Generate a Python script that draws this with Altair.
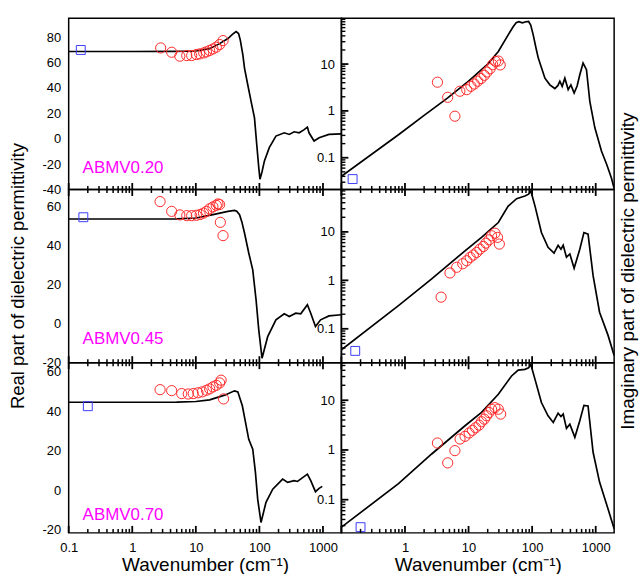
import altair as alt
import pandas as pd

# ---------------- data ----------------
# Real part, ABMV0.20
tl_line_x = [0.1, 1, 5, 10, 16.5, 23.7, 32, 38, 43, 47, 50, 55, 58.3, 65.6, 74, 83.7, 90.8, 97.7, 102, 110, 120, 143, 182, 246, 295, 352, 422, 500, 569, 603, 724, 869, 1242, 1950]
tl_line_y = [68.8, 68.8, 68.9, 69.2, 71, 75, 79, 82.5, 84.5, 83, 78, 66, 55.7, 42.6, 29.5, 16.5, -4.5, -22.7, -31.9, -26, -17.5, -7, 2.1, 4.7, 3.4, 5.5, 4.7, 7, 9.2, 4.7, -1.8, 0.8, 3.4, 3.9]
tl_circ_x = [2.8, 4.17, 5.6, 7.2, 8.6, 10.2, 11.5, 13.3, 14.7, 16.5, 18.6, 21, 23.7, 26.8]
tl_circ_y = [71.6, 68.2, 65.1, 65.6, 65.6, 66.4, 66.9, 67.7, 68.5, 69.6, 70.8, 72.2, 74.3, 77.4]
tl_sq_x = [0.155]
tl_sq_y = [70]

# Imaginary part, ABMV0.20
tr_line_x = [0.1, 0.79, 2, 4.7, 10, 20, 29.4, 42, 50, 56, 62, 70, 80, 88, 95, 104, 115, 125, 159, 190, 228, 255, 273, 297, 327, 369, 407, 458, 510, 562, 633, 716, 808, 968, 1231, 1500, 1767, 1950]
tr_line_y = [0.04, 0.31, 0.8, 1.9, 4.3, 10, 18.6, 42, 62, 76, 80, 76, 80, 81, 68, 42, 22, 13.4, 5, 3.6, 3.0, 3.5, 4.3, 3.35, 5.0, 2.85, 3.6, 2.4, 3.4, 5.9, 10.5, 7.6, 1.6, 0.44, 0.139, 0.07, 0.037, 0.022]
tr_circ_x = [3.24, 4.7, 6.1, 7.3, 9.35, 10.9, 12.3, 13.9, 15.7, 17.7, 19.5, 21.8, 23.9, 26.6, 29.4, 31.5]
tr_circ_y = [4.1, 1.95, 0.77, 2.63, 2.84, 3.35, 3.75, 4.3, 4.9, 5.75, 6.75, 7.95, 9.7, 11.4, 11.6, 9.6]
tr_sq_x = [0.15]
tr_sq_y = [0.035]

# Real part, ABMV0.45
ml_line_x = [0.1, 1, 5, 10, 18.6, 32, 40.6, 44, 48.7, 53, 58.3, 68, 78.6, 88.6, 97.7, 110, 120, 135, 182, 246, 295, 373, 447, 569, 642, 762, 917, 1242, 1950]
ml_line_y = [53.5, 53.5, 53.6, 54, 55.7, 57.4, 57.9, 57.5, 55.7, 52, 46.3, 36.1, 27.5, 12.2, -3.2, -17.7, -13, -6.7, 1.9, 5.0, 3.6, 5.3, 5.0, 9.6, 5.3, -1.5, 1.9, 3.9, 4.5]
ml_circ_x = [2.74, 4.17, 5.6, 7.2, 8.6, 10.2, 11.7, 13.2, 14.7, 16.5, 18.6, 21, 22.3, 23.7, 24.3, 26.8]
ml_circ_y = [62.4, 57.4, 55.6, 55.2, 55.2, 55.4, 55.8, 56.5, 57.4, 58.7, 59.7, 60.5, 61.2, 60.9, 51.8, 45]
ml_sq_x = [0.17]
ml_sq_y = [54.4]

# Imaginary part, ABMV0.45
mr_line_x = [0.1, 0.79, 2.63, 8.8, 16, 29.4, 42, 57, 77, 88, 95.5, 111, 140, 178, 221, 256, 284, 308, 347, 392, 458, 562, 653, 758, 910, 1150, 1560, 1950]
mr_line_y = [0.037, 0.30, 1.07, 4.07, 7.7, 15.6, 34, 48.5, 55, 60, 69.8, 34, 9.7, 4.8, 3.65, 5.3, 4.4, 5.3, 3.0, 3.5, 1.77, 4.4, 9.7, 9.0, 1.25, 0.22, 0.074, 0.028]
mr_circ_x = [3.7, 5.1, 6.5, 8.1, 9.35, 10.6, 11.9, 13.4, 15.1, 17.1, 18.8, 21, 23, 26, 28.6, 30.5]
mr_circ_y = [0.45, 1.42, 1.86, 2.2, 2.54, 2.98, 3.33, 3.77, 4.4, 5.0, 5.86, 6.85, 8.3, 9.4, 7.7, 5.6]
mr_sq_x = [0.165]
mr_sq_y = [0.035]

# Real part, ABMV0.70
bl_line_x = [0.1, 1, 5, 10, 16.5, 28.4, 40.6, 45.8, 53.9, 60.6, 68, 78.6, 86.6, 94, 106, 127, 162, 232, 278, 352, 397, 569, 642, 762, 869, 975]
bl_line_y = [44.6, 44.6, 44.7, 45.0, 45.8, 48.2, 50.4, 49.9, 42.8, 34.3, 25.8, 20.8, 9.0, -4.6, -16.4, -6.2, 0.5, 5.6, 3.9, 4.8, 4.4, 8.1, 4.8, -0.8, 0.9, 1.9]
bl_circ_x = [2.74, 4.17, 6.0, 7.6, 9.1, 10.8, 12.7, 14.7, 16.5, 18.6, 21, 23.7, 25, 27.3]
bl_circ_y = [51.0, 50.5, 49.0, 48.8, 49.0, 49.4, 49.9, 50.7, 51.4, 52.4, 53.2, 54.4, 55.8, 46.3]
bl_sq_x = [0.2]
bl_sq_y = [42.6]

# Imaginary part, ABMV0.70
br_line_x = [0.1, 0.79, 2.63, 8.8, 16, 29.4, 47.5, 60.4, 77, 88, 95.5, 111, 140, 178, 215, 256, 284, 308, 347, 392, 470, 562, 653, 758, 910, 1150, 1560, 1950]
br_line_y = [0.028, 0.21, 0.83, 3.07, 5.7, 13.2, 30.8, 40.5, 41.8, 45, 52.5, 26.3, 9.0, 4.86, 3.58, 5.5, 4.7, 5.27, 2.72, 3.3, 1.8, 3.86, 7.9, 7.7, 0.9, 0.226, 0.066, 0.026]
br_circ_x = [3.24, 4.7, 6.1, 7.35, 8.8, 10.2, 11.5, 12.9, 14.6, 16, 17.7, 19.2, 21, 23, 26, 29.4, 32]
br_circ_y = [1.38, 0.55, 0.97, 1.66, 1.88, 2.19, 2.48, 2.8, 3.16, 3.7, 4.17, 4.87, 5.67, 6.6, 7.1, 6.6, 5.27]
br_sq_x = [0.2]
br_sq_y = [0.028]

sample_labels = ["ABMV0.20", "ABMV0.45", "ABMV0.70"]
x_title = "Wavenumber (cm\u207b\u00b9)"
left_title = "Real part of dielectric permittivity"
right_title = "Imaginary part of dielectric permittivity"

x_domain = [0.1, 1950]
left_y_domains = [[-40, 95], [-20, 68.6], [-21.7, 64.7]]
right_y_domains = [[0.021, 95], [0.02, 75], [0.0215, 57]]
left_y_ticks = [[-40, -20, 0, 20, 40, 60, 80], [-20, 0, 20, 40, 60], [-20, 0, 20, 40, 60]]
x_labels_left = [0.1, 1, 10, 100, 1000]
x_labels_right = [1, 10, 100, 1000]
x_major = [0.1, 1, 10, 100, 1000]
x_minor = [k * 10 ** d for d in range(-1, 3) for k in range(2, 10)]
y_log_major = [0.1, 1, 10]
y_log_minor = [k * 10 ** d for d in range(-2, 2) for k in range(2, 10)]

# ---------------- layout ----------------
W = 274
HEIGHTS = [172, 174, 171]
LABEL_RISE = [17, 19, 13]
FONT = "Liberation Sans"

panels_data = [
    [(tl_line_x, tl_line_y, tl_circ_x, tl_circ_y, tl_sq_x, tl_sq_y),
     (tr_line_x, tr_line_y, tr_circ_x, tr_circ_y, tr_sq_x, tr_sq_y)],
    [(ml_line_x, ml_line_y, ml_circ_x, ml_circ_y, ml_sq_x, ml_sq_y),
     (mr_line_x, mr_line_y, mr_circ_x, mr_circ_y, mr_sq_x, mr_sq_y)],
    [(bl_line_x, bl_line_y, bl_circ_x, bl_circ_y, bl_sq_x, bl_sq_y),
     (br_line_x, br_line_y, br_circ_x, br_circ_y, br_sq_x, br_sq_y)],
]


def make_panel(row, col):
    lx, ly, cx, cy, sx, sy = panels_data[row][col]
    H = HEIGHTS[row]
    bottom = row == 2

    if bottom:
        xaxis = alt.Axis(values=x_labels_left if col == 0 else x_labels_right,
                         labelExpr="'' + datum.value", ticks=False, tickSize=0,
                         domain=False, labelPadding=9, labelFlush=False,
                         labelOverlap=False, title=x_title, titlePadding=1,
                         titleFontSize=19)
    else:
        xaxis = None
    X = alt.X("x:Q", scale=alt.Scale(type="log", domain=x_domain, nice=False), axis=xaxis)

    if col == 0:
        ydom = left_y_domains[row]
        yscale = alt.Scale(domain=ydom, nice=False, zero=False)
        yaxis = alt.Axis(values=left_y_ticks[row], labelExpr="'' + datum.value",
                         ticks=False, tickSize=0, domain=False, labelPadding=8,
                         labelFlush=False, labelOverlap=False, title=None)
    else:
        ydom = right_y_domains[row]
        yscale = alt.Scale(type="log", domain=ydom, nice=False)
        yaxis = alt.Axis(values=y_log_major, labelExpr="'' + datum.value",
                         ticks=False, tickSize=0, domain=False, labelPadding=7,
                         labelFlush=False, labelOverlap=False, title=None)
    Y = alt.Y("y:Q", scale=yscale, axis=yaxis)

    line = alt.Chart(pd.DataFrame({"x": lx, "y": ly})).mark_line(
        color="black", strokeWidth=1.7, clip=True).encode(x=X, y=Y)
    circ = alt.Chart(pd.DataFrame({"x": cx, "y": cy})).mark_point(
        shape="circle", filled=False, color="#ff2a2a", size=105, strokeWidth=1,
        opacity=1, clip=True).encode(x=X, y=Y)
    sq = alt.Chart(pd.DataFrame({"x": sx, "y": sy})).mark_point(
        shape="square", filled=False, color="#3c3cff", size=80, strokeWidth=1,
        opacity=1).encode(x=X, y=Y)

    # x-axis tick marks (crossing the shared edge, inward only on the bottom row)
    xmaj = pd.DataFrame({"x": [v for v in x_major if x_domain[0] <= v <= x_domain[1]]})
    xmin = pd.DataFrame({"x": [v for v in x_minor if x_domain[0] <= v <= x_domain[1]]})
    if bottom:
        maj_c, maj_len, min_c, min_len = H - 3.5, 7, H - 2, 4
    else:
        maj_c, maj_len, min_c, min_len = H, 13, H, 7
    tk_major = alt.Chart(xmaj).mark_tick(color="black", thickness=1.8, opacity=1).encode(
        x=X, y=alt.value(maj_c), size=alt.value(maj_len))
    tk_minor = alt.Chart(xmin).mark_tick(color="black", thickness=1.5, opacity=1).encode(
        x=X, y=alt.value(min_c), size=alt.value(min_len))

    layers = [line, circ, sq, tk_major, tk_minor]

    if col == 1:
        ymaj = pd.DataFrame({"y": [v for v in y_log_major if ydom[0] <= v <= ydom[1]]})
        ymin = pd.DataFrame({"y": [v for v in y_log_minor if ydom[0] <= v <= ydom[1]]})
        layers.append(alt.Chart(ymaj).mark_rule(color="black", strokeWidth=1.8).encode(
            y=Y, x=alt.value(0), x2=alt.value(7)))
        layers.append(alt.Chart(ymin).mark_rule(color="black", strokeWidth=1.4).encode(
            y=Y, x=alt.value(0), x2=alt.value(4)))
    else:
        lab = alt.Chart(pd.DataFrame({"t": [sample_labels[row]]})).mark_text(
            align="left", baseline="alphabetic", font=FONT, fontSize=17,
            color="#ff00ff").encode(text="t:N", x=alt.value(14), y=alt.value(H - LABEL_RISE[row]))
        layers.append(lab)

    if row == 1:
        if col == 0:
            ttl = alt.Chart(pd.DataFrame({"t": [left_title]})).mark_text(
                angle=270, align="center", baseline="middle", font=FONT, fontSize=18.5,
                color="black").encode(text="t:N", x=alt.value(-51), y=alt.value(H / 2))
        else:
            ttl = alt.Chart(pd.DataFrame({"t": [right_title]})).mark_text(
                angle=270, align="center", baseline="middle", font=FONT, fontSize=19,
                color="black").encode(text="t:N", x=alt.value(W + 14), y=alt.value(H / 2 - 5))
        layers.append(ttl)

    return alt.layer(*layers).properties(width=W, height=H)


panels = [make_panel(r, c) for r in range(3) for c in range(2)]

chart = alt.concat(*panels, columns=2, spacing=0, bounds="flush").properties(
    padding={"left": 8, "top": 16, "right": 5, "bottom": 5}
).configure_view(stroke="black", strokeWidth=1.5).configure_axis(
    grid=False, labelFont=FONT, labelFontSize=13, labelColor="black",
    titleFont=FONT, titleFontWeight="normal", titleColor="black"
)

chart.save("out.html", embed_options={"renderer": "svg", "actions": False})
